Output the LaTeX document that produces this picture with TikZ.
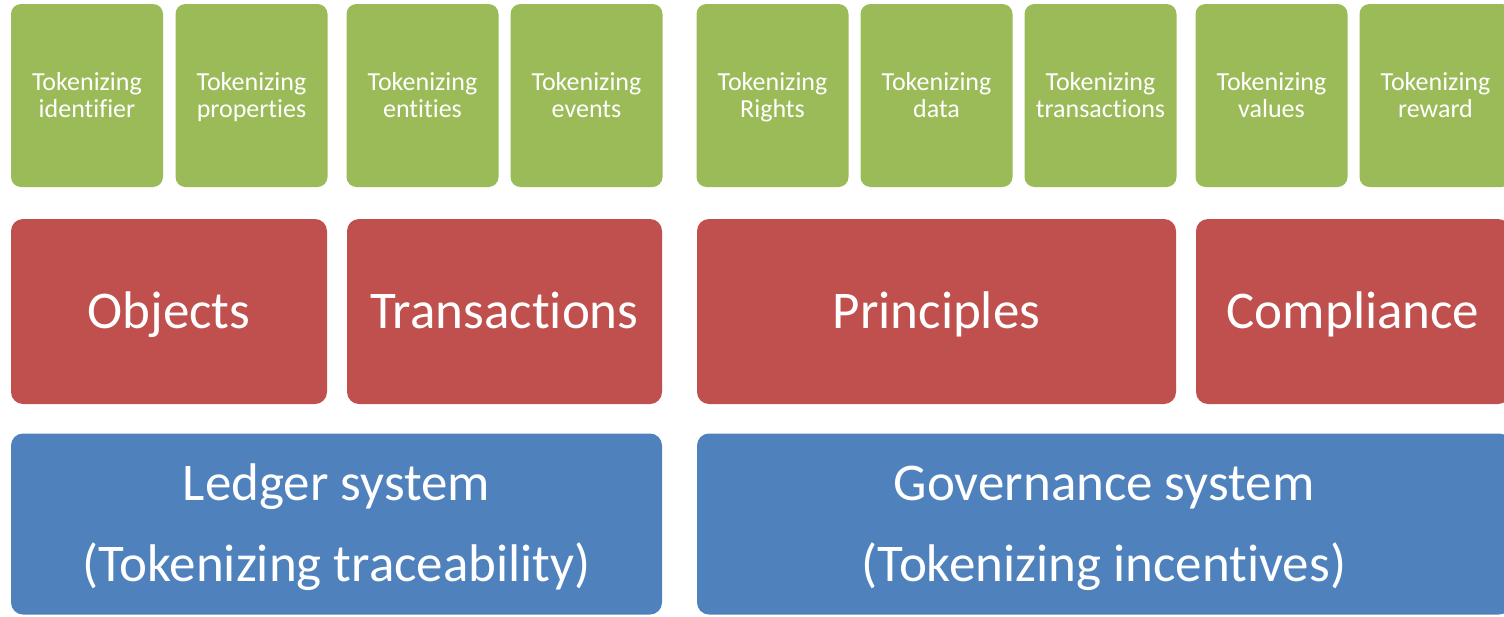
\documentclass[tikz,border=0pt]{standalone}
\usepackage{fontspec}
\setmainfont{Carlito}[Ligatures=NoCommon]
\usepackage{tikz}

\definecolor{tokgreen}{HTML}{9BBB59}
\definecolor{layerred}{HTML}{C0504D}
\definecolor{sysblue}{HTML}{4F81BD}

\tikzset{
    token/.style={fill=tokgreen, draw=none, rounded corners=10pt, text=white, align=center,
        minimum width=152pt, minimum height=183pt, inner sep=0pt,
        text height=44pt, text depth=0pt, font=\fontsize{26}{27}\selectfont},
    layer/.style={fill=layerred, draw=none, rounded corners=12pt, text=white, align=center,
        minimum height=185pt, inner sep=0pt,
        text height=34pt, text depth=0pt, font=\fontsize{53}{60}\selectfont},
    sysbox/.style={fill=sysblue, draw=none, rounded corners=12pt, text=white, align=center,
        minimum height=181pt, inner sep=0pt,
        text height=115pt, text depth=0pt, font=\fontsize{53}{81}\selectfont}
}

\begin{document}
\begin{tikzpicture}[x=1pt, y=1pt]
    \useasboundingbox (0,0) rectangle (1504,-616);

    % Tokenizing row
    \node[token] (ident) at (87,-95.5) {Tokenizing\\identifier};
    \node[token] (props) at (251.5,-95.5) {Tokenizing\\properties};
    \node[token] (entit) at (422.5,-95.5) {Tokenizing\\entities};
    \node[token] (event) at (586.5,-95.5) {Tokenizing\\events};
    \node[token] (right) at (772.5,-95.5) {Tokenizing\\Rights};
    \node[token] (data) at (936.5,-95.5) {Tokenizing\\data};
    \node[token] (trans) at (1100.5,-95.5) {Tokenizing\\transactions};
    \node[token] (value) at (1271.5,-95.5) {Tokenizing\\values};
    \node[token] (reward) at (1435.5,-95.5) {Tokenizing\\reward};

    % Layers
    \node[layer, minimum width=316pt] (objects) at (169,-311.5) {Objects};
    \node[layer, minimum width=315pt] (transactions) at (504.5,-311.5) {Transactions};
    \node[layer, minimum width=479pt] (principles) at (936.5,-311.5) {Principles};
    \node[layer, minimum width=314pt] (compliance) at (1353,-311.5) {Compliance};

    % Systems
    \node[sysbox, minimum width=651pt] (ledger) at (336.5,-524) {Ledger system\\(Tokenizing traceability)};
    \node[sysbox, minimum width=814pt] (governance) at (1104,-524) {Governance system\\(Tokenizing incentives)};
\end{tikzpicture}
\end{document}
